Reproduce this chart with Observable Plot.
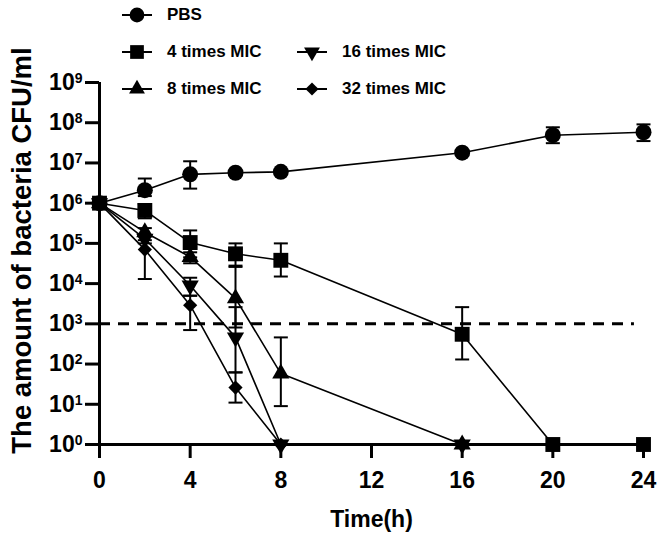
<!DOCTYPE html>
<html>
<head>
<meta charset="utf-8">
<script src="https://cdn.jsdelivr.net/npm/d3@7"></script>
<script src="https://cdn.jsdelivr.net/npm/@observablehq/plot@0.6"></script>
<style>
  html, body { margin: 0; padding: 0; background: #fff; }
  #wrap { position: relative; width: 661px; height: 540px; font-family: "Liberation Sans", Arial, sans-serif; }
  #wrap svg text { font-weight: bold; }
  .leg { position: absolute; height: 20px; display: flex; align-items: center; font-weight: bold; font-size: 17px; color: #000; white-space: nowrap; }
  .leg svg { display: block; }
</style>
</head>
<body>
<div id="wrap"></div>
<script>
// ---- data ----
const xTicks = [0, 4, 8, 12, 16, 20, 24];
const yTicks = [1, 1e1, 1e2, 1e3, 1e4, 1e5, 1e6, 1e7, 1e8, 1e9];
const detectionLimit = [1000];

const seriesNames = ["PBS", "4 times MIC", "8 times MIC", "16 times MIC", "32 times MIC"];

const pbsTime = [0, 2, 4, 6, 8, 16, 20, 24];
const pbsMean = [1e6, 2.1e6, 5.2e6, 5.7e6, 6.0e6, 1.8e7, 4.9e7, 5.8e7];
const pbsLow  = [1e6, 1.5e6, 2.3e6, 5.7e6, 6.0e6, 1.8e7, 3.1e7, 3.5e7];
const pbsHigh = [1e6, 4.1e6, 1.1e7, 5.7e6, 6.0e6, 1.8e7, 7.7e7, 9.1e7];

const mic4Time = [0, 2, 4, 6, 8, 16, 20, 24];
const mic4Mean = [1e6, 6.6e5, 1.05e5, 5.5e4, 3.8e4, 5.5e2, 1, 1];
const mic4Low  = [1e6, 4.2e5, 4.5e4, 2.8e4, 1.5e4, 1.3e2, 1, 1];
const mic4High = [1e6, 9.5e5, 2.1e5, 1.0e5, 1.0e5, 2.6e3, 1, 1];

const mic8Time = [0, 2, 4, 6, 8, 16];
const mic8Mean = [1e6, 1.9e5, 4.6e4, 4.3e3, 58, 1];
const mic8Low  = [1e6, 1.5e5, 3.2e4, 8.1e2, 9, 1];
const mic8High = [1e6, 2.4e5, 6.0e4, 2.6e4, 460, 1];

const mic16Time = [0, 2, 4, 6, 8, 16];
const mic16Mean = [1e6, 1.3e5, 9e3, 4.6e2, 1, 1];
const mic16Low  = [1e6, 1.0e5, 5e3, 62, 1, 1];
const mic16High = [1e6, 1.6e5, 1.4e4, 2.6e3, 1, 1];

const mic32Time = [0, 2, 4, 6, 8];
const mic32Mean = [1e6, 7e4, 2.9e3, 26, 1];
const mic32Low  = [1e6, 1.3e4, 7e2, 11, 1];
const mic32High = [1e6, 1.2e5, 5e3, 62, 1];

// ---- build table ----
function rowsOf(name, t, m, lo, hi) {
  return t.map((time, i) => ({series: name, time, mean: m[i], low: lo[i], high: hi[i]}));
}
const groups = [
  rowsOf(seriesNames[0], pbsTime, pbsMean, pbsLow, pbsHigh),
  rowsOf(seriesNames[1], mic4Time, mic4Mean, mic4Low, mic4High),
  rowsOf(seriesNames[2], mic8Time, mic8Mean, mic8Low, mic8High),
  rowsOf(seriesNames[3], mic16Time, mic16Mean, mic16Low, mic16High),
  rowsOf(seriesNames[4], mic32Time, mic32Mean, mic32Low, mic32High)
];
const rows = groups.flat();
const errRows = rows.filter(d => d.high > d.low);
const capRows = errRows.flatMap(d => [{time: d.time, v: d.low}, {time: d.time, v: d.high}]);

// ---- symbols ----
const sqrt3 = Math.sqrt(3);
const triangleDown = {
  draw(context, size) {
    const y = -Math.sqrt(size / (sqrt3 * 3));
    context.moveTo(0, -y * 2);
    context.lineTo(-sqrt3 * y, y);
    context.lineTo(sqrt3 * y, y);
    context.closePath();
  }
};
const capSymbol = {
  draw(context) { context.moveTo(-7, 0); context.lineTo(7, 0); }
};
const symbolSpec = [
  {symbol: "circle", r: 8},
  {symbol: "square", r: 8.4},
  {symbol: "triangle", r: 6.4},
  {symbol: triangleDown, r: 6.4},
  {symbol: "diamond2", r: 6.4}
];

const dotMarks = groups.map((g, i) =>
  Plot.dot(g, {x: "time", y: "mean", symbol: () => symbolSpec[i].symbol, r: symbolSpec[i].r, fill: "black", stroke: "none"})
);

const chart = Plot.plot({
  width: 661,
  height: 540,
  marginLeft: 99,
  marginRight: 18,
  marginTop: 82,
  marginBottom: 96,
  style: {fontFamily: "'Liberation Sans', Arial, sans-serif", color: "black", background: "white"},
  x: {domain: [0, 24]},
  y: {type: "log", domain: [1, 1e9]},
  symbol: {type: "identity"},
  marks: [
    Plot.axisX({ticks: xTicks, tickSize: 14, tickPadding: 13, strokeWidth: 3, fontSize: 23, label: null}),
    Plot.axisY({ticks: yTicks, tickSize: 14, tickPadding: 3, strokeWidth: 3, fontSize: 23, label: null,
      tickFormat: d => String(Math.round(Math.log10(d)))}),
    Plot.ruleX([0], {strokeWidth: 3}),
    Plot.ruleY([1], {strokeWidth: 3}),
    Plot.ruleY(detectionLimit, {x1: 0, x2: 23.6, strokeWidth: 3, strokeDasharray: "11,8"}),
    Plot.line(rows, {x: "time", y: "mean", z: "series", stroke: "black", strokeWidth: 1.6}),
    Plot.ruleX(errRows, {x: "time", y1: "low", y2: "high", stroke: "black", strokeWidth: 2}),
    Plot.dot(capRows, {x: "time", y: "v", symbol: () => capSymbol, fill: "none", stroke: "black", strokeWidth: 2}),
    ...dotMarks,
    Plot.text(["Time(h)"], {frameAnchor: "bottom", dy: 82, fontSize: 23, fontWeight: "bold"}),
    Plot.text(["The amount of bacteria CFU/ml"], {frameAnchor: "left", textAnchor: "middle", rotate: -90, dx: -77, dy: -13, fontSize: 27.5, fontWeight: "bold"})
  ]
});

// superscript exponents on the y tick labels
d3.select(chart).selectAll('g[aria-label="y-axis tick label"] text').each(function() {
  const e = this.textContent;
  this.textContent = "10";
  d3.select(this).append("tspan").attr("dy", "-7").attr("font-size", 14).text(e);
});

const wrap = document.getElementById("wrap");
wrap.appendChild(chart);

// ---- legend (HTML, overlaid at the top) ----
const legendItems = [
  {name: seriesNames[0], spec: symbolSpec[0], left: 122, top: 15},
  {name: seriesNames[1], spec: symbolSpec[1], left: 122, top: 52},
  {name: seriesNames[2], spec: symbolSpec[2], left: 122, top: 89},
  {name: seriesNames[3], spec: symbolSpec[3], left: 297, top: 52},
  {name: seriesNames[4], spec: symbolSpec[4], left: 297, top: 89}
];
const symbolTypes = {circle: d3.symbolCircle, square: d3.symbolSquare, triangle: d3.symbolTriangle, diamond2: d3.symbolDiamond2};
legendItems.forEach(it => {
  const div = document.createElement("div");
  div.className = "leg";
  div.style.left = it.left + "px";
  div.style.top = (it.top - 10) + "px";
  const s = d3.create("svg").attr("width", 30).attr("height", 20);
  s.append("line").attr("x1", 0).attr("x2", 30).attr("y1", 10).attr("y2", 10).attr("stroke", "black").attr("stroke-width", 2);
  const type = typeof it.spec.symbol === "string" ? symbolTypes[it.spec.symbol] : it.spec.symbol;
  const size = Math.PI * it.spec.r * it.spec.r * 0.85;
  s.append("path").attr("transform", "translate(15,10)").attr("d", d3.symbol(type, size)()).attr("fill", "black");
  div.appendChild(s.node());
  const span = document.createElement("span");
  span.style.marginLeft = "15px";
  span.textContent = it.name;
  div.appendChild(span);
  wrap.appendChild(div);
});
</script>
</body>
</html>
